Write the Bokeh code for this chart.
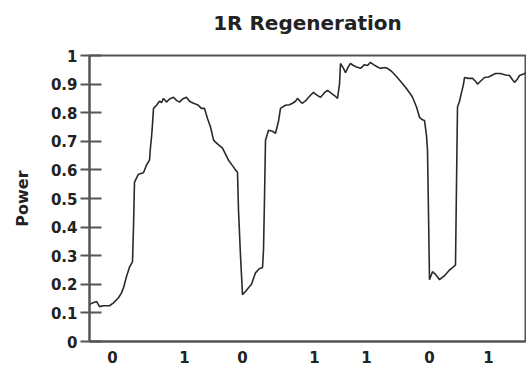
from bokeh.plotting import figure
from bokeh.models import Range1d, FixedTicker, Title
from bokeh.embed import file_html
from bokeh.resources import INLINE

# time (arbitrary units) and measured power
t = [0.0, 0.3, 0.7, 1.0, 1.4, 2.0, 2.4, 2.9, 3.2, 3.4, 3.7, 4.0, 4.3, 4.4, 4.5, 4.9, 5.4, 5.7, 6.0, 6.1,
     6.2, 6.3, 6.4, 6.7, 7.0, 7.2, 7.4, 7.7, 8.0, 8.4, 8.7, 9.0, 9.3, 9.7, 10.0, 10.4, 10.8, 11.2, 11.5, 11.8,
     12.1, 12.4, 12.6, 13.0, 13.3, 13.6, 13.9, 14.3, 14.6, 14.8, 14.9, 15.1, 15.3, 15.6, 15.9, 16.2, 16.6, 17.0, 17.3, 17.4,
     17.5, 17.6, 17.9, 18.3, 18.6, 18.9, 19.1, 19.6, 20.0, 20.3, 20.6, 20.8, 21.1, 21.3, 21.7, 22.1, 22.4, 22.6, 22.9, 23.1,
     23.5, 23.8, 24.1, 24.5, 24.8, 25.0, 25.1, 25.4, 25.6, 25.9, 26.1, 26.4, 26.7, 27.1, 27.5, 27.8, 28.1, 28.4, 28.8, 29.1,
     29.5, 29.8, 30.2, 30.6, 31.1, 31.6, 32.0, 32.3, 32.7, 33.0, 33.3, 33.5, 33.7, 33.8, 33.9, 34.0, 34.3, 34.6, 35.0, 35.5,
     36.0, 36.3, 36.6, 36.7, 36.8, 37.0, 37.2, 37.4, 37.5, 37.9, 38.3, 38.6, 38.8, 39.1, 39.5, 39.9, 40.3, 40.6, 41.1, 41.6,
     42.0, 42.3, 42.5, 42.8, 43.0, 43.4, 43.7]
power = [0.129, 0.135, 0.14, 0.122, 0.125, 0.125, 0.135, 0.153, 0.17, 0.188, 0.227, 0.26, 0.279, 0.40, 0.557, 0.585, 0.59, 0.617, 0.634, 0.68,
         0.714, 0.76, 0.815, 0.826, 0.84, 0.835, 0.85, 0.837, 0.848, 0.854, 0.843, 0.837, 0.848, 0.854, 0.84, 0.833, 0.828, 0.815, 0.815, 0.78,
         0.75, 0.705, 0.697, 0.685, 0.676, 0.655, 0.634, 0.615, 0.60, 0.592, 0.46, 0.30, 0.164, 0.175, 0.188, 0.20, 0.24, 0.255, 0.258, 0.32,
         0.50, 0.704, 0.739, 0.735, 0.728, 0.77, 0.815, 0.826, 0.828, 0.833, 0.84, 0.85, 0.838, 0.833, 0.845, 0.861, 0.871, 0.865, 0.858, 0.854,
         0.87, 0.878, 0.87, 0.86, 0.85, 0.90, 0.972, 0.955, 0.94, 0.962, 0.972, 0.965, 0.96, 0.955, 0.968, 0.965, 0.976, 0.968, 0.96, 0.955,
         0.958, 0.955, 0.945, 0.93, 0.91, 0.889, 0.87, 0.854, 0.82, 0.784, 0.775, 0.773, 0.72, 0.669, 0.45, 0.216, 0.244, 0.235, 0.216, 0.23,
         0.25, 0.258, 0.268, 0.55, 0.82, 0.84, 0.87, 0.90, 0.923, 0.92, 0.92, 0.91, 0.9, 0.91, 0.923, 0.925, 0.932, 0.937, 0.937, 0.932,
         0.93, 0.915, 0.906, 0.918, 0.93, 0.935, 0.94]

bit_positions = [2.3, 9.5, 15.3, 22.5, 27.7, 34.0, 39.9]
bit_labels = ["0", "1", "0", "1", "1", "0", "1"]
y_ticks = [0, 0.1, 0.2, 0.3, 0.4, 0.5, 0.6, 0.7, 0.8, 0.9, 1]
y_tick_labels = ["0", "0.1", "0.2", "0.3", "0.4", "0.5", "0.6", "0.7", "0.8", "0.9", "1"]
title_text = "1R Regeneration"

FONT = "DejaVu Sans"
TXT = "#222222"
AX = "#555555"

p = figure(width=526, height=365, output_backend="svg", toolbar_location=None,
           x_range=Range1d(0, 43.6), y_range=Range1d(0, 1), title=title_text)
p.min_border_left = 89
p.min_border_right = 1
p.min_border_top = 55
p.min_border_bottom = 23

p.title.text_font = FONT
p.title.text_font_size = "20px"
p.title.text_font_style = "bold"
p.title.text_color = TXT
p.title.align = "center"
p.title.standoff = 0

# blank spacer between title and frame
p.add_layout(Title(text=" ", text_font_size="17px", standoff=0), "above")

p.grid.visible = False
p.outline_line_color = AX
p.outline_line_width = 2
p.background_fill_color = "white"
p.border_fill_color = "white"

p.line(t, power, line_color="#2a2a2a", line_width=1.6)

ya = p.yaxis[0]
ya.ticker = FixedTicker(ticks=y_ticks)
ya.major_label_overrides = {v: s for v, s in zip(y_ticks, y_tick_labels)}
ya.minor_tick_line_color = None
ya.major_tick_in = 12
ya.major_tick_out = 9
ya.major_tick_line_color = AX
ya.major_tick_line_width = 2
ya.axis_line_color = AX
ya.axis_line_width = 2
ya.major_label_text_font = FONT
ya.major_label_text_font_size = "15px"
ya.major_label_text_font_style = "bold"
ya.major_label_text_color = TXT
ya.major_label_standoff = 3
ya.axis_label = "Power"
ya.axis_label_text_font = FONT
ya.axis_label_text_font_size = "16px"
ya.axis_label_text_font_style = "bold"
ya.axis_label_text_color = TXT
ya.axis_label_standoff = 16

xa = p.xaxis[0]
xa.ticker = FixedTicker(ticks=bit_positions)
xa.major_label_overrides = {v: s for v, s in zip(bit_positions, bit_labels)}
xa.minor_tick_line_color = None
xa.major_tick_in = 0
xa.major_tick_out = 0
xa.axis_line_color = AX
xa.axis_line_width = 2
xa.major_label_text_font = FONT
xa.major_label_text_font_size = "15px"
xa.major_label_text_font_style = "bold"
xa.major_label_text_color = TXT
xa.major_label_standoff = 9

open("out.html", "w").write(file_html(p, INLINE))
